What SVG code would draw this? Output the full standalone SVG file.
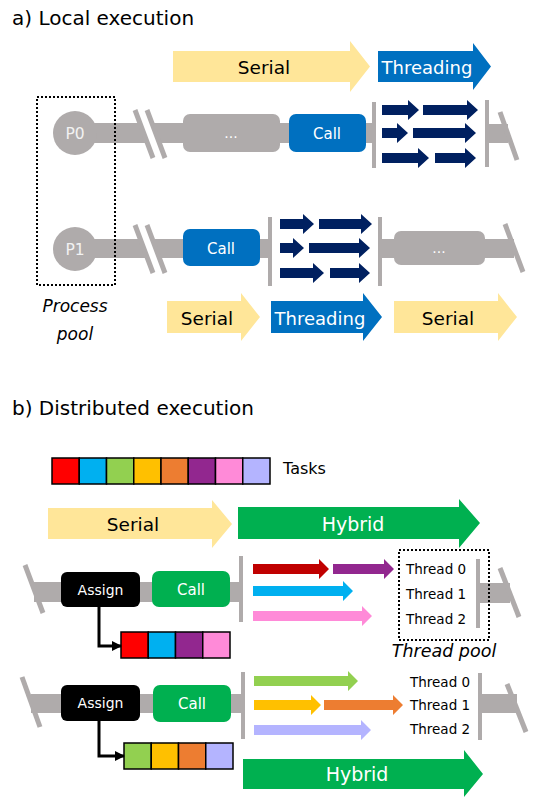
<svg xmlns="http://www.w3.org/2000/svg" width="533" height="804" viewBox="0 0 533 804">
<defs>
<style>
.t{font-family:"DejaVu Sans","Liberation Sans",sans-serif}
.ti{font-family:"DejaVu Sans","Liberation Sans",sans-serif;font-style:italic}
.bar{fill:#AFABAB}
.vl{stroke:#AFABAB;stroke-width:4}
.sl{stroke:#AFABAB;stroke-width:5}
.yel{fill:#FFE699}
.blu{fill:#0070C0}
.grn{fill:#00B050}
.navy{fill:#002060}
.cell{stroke:#000;stroke-width:1.5}
.dot{fill:none;stroke:#000;stroke-width:2;stroke-dasharray:2 2}
.wt{fill:#fff}
.bk{fill:#000}
</style>
<marker id="ah" viewBox="0 0 10 10" refX="9" refY="5" markerWidth="10" markerHeight="10" markerUnits="userSpaceOnUse" orient="auto">
<path d="M0,0 L10,5 L0,10 z" fill="#000"/>
</marker>
</defs>
<rect width="533" height="804" fill="#fff"/>

<text class="t" x="12" y="25" font-size="20" fill="#000">a) Local execution</text>
<text class="t" x="12" y="415" font-size="20" fill="#000">b) Distributed execution</text>

<!-- phase arrows section a -->
<g id="a-top-serial"><polygon class="yel" points="173,51 350,51 350,41 370,66.5 350,92 350,82 173,82"/><text class="t" x="264" y="74" font-size="18.5" text-anchor="middle" fill="#000">Serial</text></g>
<g id="a-top-threading"><polygon class="blu" points="378,51 473,51 473,43 491,66.5 473,90 473,82 378,82"/><text class="t" x="427" y="74" font-size="18" text-anchor="middle" fill="#fff">Threading</text></g>
<g id="a-bot-serial1"><polygon class="yel" points="167,301 241,301 241,293 260,317 241,341 241,333 167,333"/><text class="t" x="207" y="325" font-size="18.5" text-anchor="middle" fill="#000">Serial</text></g>
<g id="a-bot-threading"><polygon class="blu" points="271,301 363,301 363,293 382,317 363,341 363,333 271,333"/><text class="t" x="320" y="325" font-size="18" text-anchor="middle" fill="#fff">Threading</text></g>
<g id="a-bot-serial2"><polygon class="yel" points="394,301 498,301 498,293 517,317 498,341 498,333 394,333"/><text class="t" x="448" y="325" font-size="18.5" text-anchor="middle" fill="#000">Serial</text></g>

<!-- P0 timeline -->
<g id="p0-line">
<rect class="bar" x="75" y="123" width="299" height="20"/>
<polygon class="wt" points="137,110 147,110 163,158 153,158"/>
<line class="sl" x1="135" y1="110" x2="153" y2="158"/>
<line class="sl" x1="147" y1="110" x2="165" y2="158"/>
<line class="vl" x1="374" y1="102" x2="374" y2="168"/>
<rect class="bar" x="487" y="124" width="21" height="19"/>
<line class="vl" x1="487" y1="100" x2="487" y2="167"/>
<line class="sl" x1="500" y1="112" x2="517" y2="160"/>
</g>
<g id="p0"><circle class="bar" cx="75" cy="133" r="22"/><text class="t" x="75" y="139" font-size="15.5" text-anchor="middle" fill="#F2F2F2">P0</text></g>
<g id="p0-dots"><rect class="bar" x="183" y="114" width="97" height="38" rx="7"/><text class="t" x="231" y="138" font-size="14" text-anchor="middle" fill="#fff">...</text></g>
<g id="p0-call"><rect class="blu" x="289" y="114" width="77" height="38" rx="7"/><text class="t" x="327" y="139" font-size="15" text-anchor="middle" fill="#fff">Call</text></g>
<g id="p0-threads">
<polygon class="navy" points="382,105 408,105 408,100 419,110 408,120 408,115 382,115"/>
<polygon class="navy" points="423,105 467,105 467,100 478,110 467,120 467,115 423,115"/>
<polygon class="navy" points="382,128 397,128 397,123 408,133 397,143 397,138 382,138"/>
<polygon class="navy" points="413,128 465,128 465,123 476,133 465,143 465,138 413,138"/>
<polygon class="navy" points="382,153 418,153 418,148 429,158 418,168 418,163 382,163"/>
<polygon class="navy" points="435,153 465,153 465,148 476,158 465,168 465,163 435,163"/>
</g>

<!-- P1 timeline -->
<g id="p1-line">
<rect class="bar" x="75" y="239" width="195" height="19"/>
<polygon class="wt" points="137,225 147,225 163,273 153,273"/>
<line class="sl" x1="135" y1="225" x2="153" y2="273"/>
<line class="sl" x1="147" y1="225" x2="165" y2="273"/>
<line class="vl" x1="270" y1="217" x2="270" y2="286"/>
<rect class="bar" x="380" y="239" width="134" height="19"/>
<line class="vl" x1="380" y1="217" x2="380" y2="286"/>
<line class="sl" x1="505" y1="224" x2="523" y2="272"/>
</g>
<g id="p1"><circle class="bar" cx="75" cy="249" r="22"/><text class="t" x="75" y="255" font-size="15.5" text-anchor="middle" fill="#F2F2F2">P1</text></g>
<g id="p1-call"><rect class="blu" x="183" y="229" width="77" height="37" rx="7"/><text class="t" x="221" y="253.5" font-size="15" text-anchor="middle" fill="#fff">Call</text></g>
<g id="p1-dots"><rect class="bar" x="394" y="231" width="91" height="34" rx="7"/><text class="t" x="439" y="253" font-size="14" text-anchor="middle" fill="#fff">...</text></g>
<g id="p1-threads">
<polygon class="navy" points="280,219 303,219 303,214 314,224 303,234 303,229 280,229"/>
<polygon class="navy" points="319,219 361,219 361,214 372,224 361,234 361,229 319,229"/>
<polygon class="navy" points="280,243 293,243 293,238 304,248 293,258 293,253 280,253"/>
<polygon class="navy" points="309,243 359,243 359,238 370,248 359,258 359,253 309,253"/>
<polygon class="navy" points="280,268 313,268 313,263 324,273 313,283 313,278 280,278"/>
<polygon class="navy" points="330,268 359,268 359,263 370,273 359,283 359,278 330,278"/>
</g>

<g id="process-pool">
<rect class="dot" x="37" y="97" width="78" height="188"/>
<text class="ti" x="75" y="312" font-size="17" text-anchor="middle" fill="#000">Process</text>
<text class="ti" x="75" y="340" font-size="17" text-anchor="middle" fill="#000">pool</text>
</g>

<!-- section b -->
<g id="tasks">
<rect class="cell" x="52" y="458" width="27.25" height="26" fill="#FF0000"/>
<rect class="cell" x="79.25" y="458" width="27.25" height="26" fill="#00B0F0"/>
<rect class="cell" x="106.5" y="458" width="27.25" height="26" fill="#92D050"/>
<rect class="cell" x="133.75" y="458" width="27.25" height="26" fill="#FFC000"/>
<rect class="cell" x="161" y="458" width="27.25" height="26" fill="#ED7D31"/>
<rect class="cell" x="188.25" y="458" width="27.25" height="26" fill="#92278F"/>
<rect class="cell" x="215.5" y="458" width="27.25" height="26" fill="#FF8AD8"/>
<rect class="cell" x="242.75" y="458" width="27.25" height="26" fill="#B4B4FF"/>
<text class="t" x="283" y="474" font-size="16" fill="#000">Tasks</text>
</g>
<g id="b-serial"><polygon class="yel" points="48,508 212,508 212,500 232,524 212,548 212,539 48,539"/><text class="t" x="133" y="531" font-size="18.5" text-anchor="middle" fill="#000">Serial</text></g>
<g id="b-hybrid-top"><polygon class="grn" points="238,507 459,507 459,499 480,523 459,548 459,539 238,539"/><text class="t" x="353" y="531" font-size="19" text-anchor="middle" fill="#fff">Hybrid</text></g>

<g id="b1-line">
<line class="sl" x1="25" y1="565" x2="43" y2="613"/>
<rect class="bar" x="34" y="582" width="207" height="20"/>
<line class="vl" x1="241" y1="556" x2="241" y2="622"/>
<rect class="bar" x="478" y="583" width="32" height="20"/>
<line class="vl" x1="478" y1="559" x2="478" y2="628"/>
<line class="sl" x1="500" y1="568" x2="519" y2="617"/>
</g>
<g id="b1-assign"><rect class="bk" x="61" y="572" width="79" height="35" rx="6"/><text class="t" x="100.5" y="594.5" font-size="14" text-anchor="middle" fill="#fff">Assign</text></g>
<g id="b1-call"><rect class="grn" x="152" y="571" width="78" height="36" rx="7"/><text class="t" x="191" y="594.5" font-size="15" text-anchor="middle" fill="#fff">Call</text></g>
<g id="b1-queue">
<rect class="cell" x="121" y="632" width="27.25" height="26" fill="#FF0000"/>
<rect class="cell" x="148.25" y="632" width="27.25" height="26" fill="#00B0F0"/>
<rect class="cell" x="175.5" y="632" width="27.25" height="26" fill="#92278F"/>
<rect class="cell" x="202.75" y="632" width="27.25" height="26" fill="#FF8AD8"/>
</g>
<g id="b1-threads">
<polygon fill="#C00000" points="253,564 319,564 319,559 329,569 319,579 319,574 253,574"/>
<polygon fill="#92278F" points="333,564 384,564 384,559 394,569 384,579 384,574 333,574"/>
<polygon fill="#00B0F0" points="253,586 343,586 343,581 353,591 343,601 343,596 253,596"/>
<polygon fill="#FF8AD8" points="253,611 362,611 362,606 372,616 362,626 362,621 253,621"/>
</g>
<g id="thread-pool">
<rect class="dot" x="399" y="550" width="90" height="90"/>
<text class="t" x="406" y="574" font-size="13.5" fill="#000">Thread 0</text>
<text class="t" x="406" y="599" font-size="13.5" fill="#000">Thread 1</text>
<text class="t" x="406" y="624" font-size="13.5" fill="#000">Thread 2</text>
<text class="ti" x="444" y="657" font-size="17.5" text-anchor="middle" fill="#000">Thread pool</text>
</g>

<g id="b2-line">
<line class="sl" x1="22" y1="677" x2="40" y2="727"/>
<rect class="bar" x="31" y="694" width="212" height="19"/>
<line class="vl" x1="243" y1="672" x2="243" y2="739"/>
<rect class="bar" x="480" y="694" width="37" height="19"/>
<line class="vl" x1="480" y1="673" x2="480" y2="740"/>
<line class="sl" x1="507" y1="684" x2="526" y2="732"/>
</g>
<g id="b2-assign"><rect class="bk" x="61" y="685" width="79" height="36" rx="6"/><text class="t" x="100.5" y="708" font-size="14" text-anchor="middle" fill="#fff">Assign</text></g>
<g id="b2-call"><rect class="grn" x="153" y="685" width="78" height="37" rx="7"/><text class="t" x="192" y="709" font-size="15" text-anchor="middle" fill="#fff">Call</text></g>
<g id="b2-queue">
<rect class="cell" x="124" y="743" width="27.25" height="26" fill="#92D050"/>
<rect class="cell" x="151.25" y="743" width="27.25" height="26" fill="#FFC000"/>
<rect class="cell" x="178.5" y="743" width="27.25" height="26" fill="#ED7D31"/>
<rect class="cell" x="205.75" y="743" width="27.25" height="26" fill="#B4B4FF"/>
</g>
<g id="b2-threads">
<polygon fill="#92D050" points="254,676 348,676 348,671 358,681 348,691 348,686 254,686"/>
<polygon fill="#FFC000" points="254,700 311,700 311,695 321,705 311,715 311,710 254,710"/>
<polygon fill="#ED7D31" points="324,700 393,700 393,695 403,705 393,715 393,710 324,710"/>
<polygon fill="#B4B4FF" points="254,725 361,725 361,720 371,730 361,740 361,735 254,735"/>
</g>
<g id="b2-labels">
<text class="t" x="410" y="687" font-size="13.5" fill="#000">Thread 0</text>
<text class="t" x="410" y="710" font-size="13.5" fill="#000">Thread 1</text>
<text class="t" x="410" y="734" font-size="13.5" fill="#000">Thread 2</text>
</g>
<g id="b-hybrid-bottom"><polygon class="grn" points="243,759 464,759 464,750 483,774 464,797 464,789 243,789"/><text class="t" x="357" y="781" font-size="19" text-anchor="middle" fill="#fff">Hybrid</text></g>

<g id="connectors">
<path d="M99,607 V646 H121" fill="none" stroke="#000" stroke-width="3" marker-end="url(#ah)"/>
<path d="M99,721 V756 H124" fill="none" stroke="#000" stroke-width="3" marker-end="url(#ah)"/>
</g>
</svg>
